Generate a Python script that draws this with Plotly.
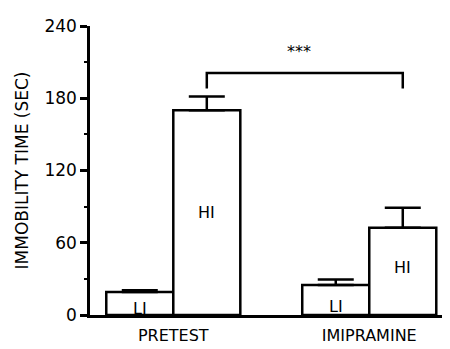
import plotly.graph_objects as go

groups = ["PRETEST", "IMIPRAMINE"]
li_values = [19, 25]
li_errors = [1.5, 4.5]
hi_values = [170, 72.5]
hi_errors = [11.5, 16.5]
bar_labels = ["LI", "HI"]
y_ticks = [0, 60, 120, 180, 240]
bracket_y = 201
bracket_drop = 188
sig_text = "***"

FONT = "DejaVu Sans"
line_w = 2.5

fig = go.Figure()
for name, vals, errs in [("LI", li_values, li_errors), ("HI", hi_values, hi_errors)]:
    fig.add_trace(go.Bar(
        x=groups, y=vals, name=name,
        marker=dict(color="white", line=dict(color="black", width=line_w)),
        error_y=dict(type="data", symmetric=False, array=errs,
                     arrayminus=[0] * len(errs), color="black",
                     thickness=2.5, width=18),
    ))

bargap = 0.316
bw = (1 - bargap) / 2
off = bw / 2

lab_font = dict(family=FONT, size=16, color="black")
for gi, g in enumerate(groups):
    fig.add_annotation(x=gi - off, y=li_values[gi] * 0.28, text=bar_labels[0],
                       showarrow=False, font=lab_font)
fig.add_annotation(x=0 + off, y=hi_values[0] / 2, text=bar_labels[1], showarrow=False, font=lab_font)
fig.add_annotation(x=1 + off, y=hi_values[1] * 0.54, text=bar_labels[1], showarrow=False, font=lab_font)

# significance bracket
fig.add_shape(type="path",
              path=f"M {0+off} {bracket_drop} L {0+off} {bracket_y} L {1+off} {bracket_y} L {1+off} {bracket_drop}",
              line=dict(color="black", width=2.5), xref="x", yref="y")
fig.add_annotation(x=0.47 + off, y=bracket_y + 18, text=sig_text, showarrow=False,
                   font=dict(family=FONT, size=16, color="black"))

fig.update_layout(
    width=450, height=349,
    margin=dict(l=82, r=8, t=15, b=42, pad=0),
    paper_bgcolor="white", plot_bgcolor="white",
    barmode="group", bargap=bargap, bargroupgap=0,
    showlegend=False,
    font=dict(family=FONT, color="black"),
    xaxis=dict(range=[-0.425, 1.412], showline=True, linecolor="black", linewidth=line_w,
               ticks="", showgrid=False, zeroline=False,
               tickfont=dict(family=FONT, size=16), ticklabelstandoff=4),
    yaxis=dict(range=[0, 240], tickvals=y_ticks, showline=True, linecolor="black",
               linewidth=line_w, ticks="outside", ticklen=7, tickwidth=2.5,
               tickcolor="black", showgrid=False, zeroline=False,
               tickfont=dict(family=FONT, size=17),
               minor=dict(tickmode="linear", tick0=0, dtick=30, ticks="outside",
                          ticklen=3, tickwidth=2, tickcolor="black"),
               title=dict(text="IMMOBILITY TIME (SEC)", font=dict(family=FONT, size=17),
                          standoff=12)),
)

fig.write_html("out.html")
